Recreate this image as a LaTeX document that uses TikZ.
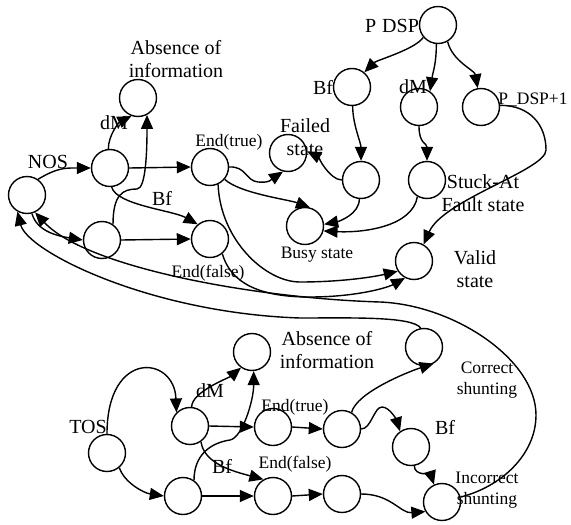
\documentclass[tikz,border=0pt]{standalone}
\usepackage{fontspec}
\setmainfont{Liberation Serif}
\usetikzlibrary{arrows.meta}
\begin{document}
\begin{tikzpicture}[x=1pt,y=-1pt,
  stt/.style={circle,draw,line width=1.4pt,minimum size=37pt,inner sep=0pt},
  lbl/.style={inner sep=0pt,align=center,font={\fontsize{20}{23}\selectfont}},
  sml/.style={inner sep=0pt,align=center,font={\fontsize{17.5}{20.5}\selectfont}},
  ar/.style={line width=1.4pt,-{Triangle[length=14pt,width=12pt]}}]
\useasboundingbox (0,0) rectangle (571,525);
% states
\node[stt] (N0) at (27,195) {};
\node[stt] (D1) at (110,168) {};
\node[stt] (D2) at (102,240) {};
\node[stt] (A1) at (138,98) {};
\node[stt] (E1) at (210,167) {};
\node[stt] (F1) at (210,239) {};
\node[stt] (FS) at (288,153) {};
\node[stt] (BS) at (305,226) {};
\node[stt] (VS) at (414,261) {};
\node[stt] (P0) at (438,25) {};
\node[stt] (B3) at (352,87) {};
\node[stt] (M3) at (419,107) {};
\node[stt] (P1) at (481,107) {};
\node[stt] (B4) at (361,180) {};
\node[stt] (S3) at (427,180) {};
\node[stt] (T0) at (107,453) {};
\node[stt] (D3) at (190,426) {};
\node[stt] (D4) at (183,496) {};
\node[stt] (A2) at (252,352) {};
\node[stt] (E3) at (273,427) {};
\node[stt] (F3) at (273,496) {};
\node[stt] (E3b) at (342,429) {};
\node[stt] (F3b) at (342,494) {};
\node[stt] (C2) at (424,347) {};
\node[stt] (B5) at (411,447) {};
\node[stt] (IS) at (442,502) {};
% labels
\node[lbl] (tAbs1) at (176,59) {Absence of\\information};
\node[lbl] (tNOS) at (48,162) {NOS};
\node[lbl] (tdM1) at (114,123) {dM};
\node[sml] (tEt1) at (229,142) {End(true)};
\node[lbl] (tBf1) at (162,198) {Bf};
\node[sml] (tEf1) at (208,273) {End(false)};
\node[lbl] (tFail) at (305,137) {Failed\\state};
\node[sml] (tBusy) at (317,255) {Busy state};
\node[lbl] (tValid) at (475,269) {Valid\\state};
\node[lbl] (tPDSP) at (392,26) {P\hspace{6pt}DSP};
\node[lbl] (tBf2) at (323,87) {Bf};
\node[lbl] (tdM2) at (413,87) {dM};
\node[sml] (tPD1) at (533,100) {P\_DSP+1};
\node[lbl] (tStuck) at (483,193) {Stuck-At\\Fault state};
\node[lbl] (tTOS) at (88,427) {TOS};
\node[lbl] (tdM3) at (210,391) {dM};
\node[sml] (tEt2) at (295,407) {End(true)};
\node[lbl] (tBf3) at (222,466) {Bf};
\node[sml] (tEf2) at (295,464) {End(false)};
\node[lbl] (tAbs2) at (327,350) {Absence of\\information};
\node[sml] (tCor) at (487,380) {Correct\\shunting};
\node[lbl] (tBf4) at (445,427) {Bf};
\node[sml] (tInc) at (487,490) {Incorrect\\shunting};
% top section
\draw[ar] (N0.55) .. controls +(20,-12) and +(-25,0) .. (D1.west);
\draw[ar] (N0.-75) .. controls +(5,18) and +(-25,-4) .. (D2.west);
\draw[ar] (D1.95) .. controls +(0,-14) and +(-12,6) .. (A1.-110);
\draw[ar] (D2.55) .. controls +(0,-30) and +(-14,0) .. (137,189) .. controls +(9,0) and +(0,35) .. (A1.-62);
\draw[ar] (D1.east) -- (E1.west);
\draw[ar] (D1.-85) .. controls +(5,18) and +(-25,-14) .. (F1.130);
\draw[ar] (D2.east) -- (F1.west);
\draw[ar] (E1.east) .. controls +(17,-1) and +(-12,-1) .. (258,182) .. controls +(12,1) and +(-12,8) .. (FS.-105);
\draw[ar] (E1.-40) .. controls +(15,14) and +(-22,-8) .. (BS.75);
\draw[ar] (E1.-65) .. controls +(2,55) and +(-35,0) .. (300,282) .. controls +(40,0) and +(-25,6) .. (VS.-148);
\draw[ar] (F1.-50) .. controls +(10,35) and +(-40,0) .. (310,297) .. controls +(45,0) and +(-18,10) .. (VS.-118);
\draw[ar] (P0.-140) .. controls +(-8,12) and +(12,-12) .. (B3.50);
\draw[ar] (P0.-95) .. controls +(0,20) and +(3,-20) .. (M3.55);
\draw[ar] (P0.-60) .. controls +(5,20) and +(-3,-18) .. (P1.100);
\draw[ar] (B3.-88) .. controls +(0,18) and +(0,-18) .. (B4.north);
\draw[ar] (M3.-90) .. controls +(0,18) and +(0,-18) .. (S3.north);
\draw[ar] (P1.5) .. controls +(30,0) and +(0,-25) .. (546,150) .. controls +(0,20) and +(20,-45) .. (VS.60);
\draw[ar] (B4.west) .. controls +(-12,0) and +(10,5) .. (FS.5);
\draw[ar] (B4.-95) .. controls +(0,15) and +(15,-3) .. (BS.5);
\draw[ar] (S3.-120) .. controls +(-5,30) and +(40,2) .. (BS.-15);
% bottom section
\draw[ar] (T0.north) .. controls +(0,-85) and +(-2,-57) .. (D3.135);
\draw[ar] (T0.-50) .. controls +(5,15) and +(-20,-3) .. (D4.west);
\draw[ar] (D3.85) .. controls +(0,-15) and +(-12,10) .. (A2.-125);
\draw[ar] (D4.55) .. controls +(0,-25) and +(-20,3) .. (230,440) .. controls +(12,-2) and +(0,30) .. (A2.-85);
\draw[ar] (D3.east) -- (E3.west);
\draw[ar] (D3.-55) .. controls +(3,22) and +(-30,-8) .. (F3.120);
\draw[ar] (D4.east) -- (F3.west);
\draw[ar] (E3.east) -- (E3b.west);
\draw[ar] (F3.east) -- (F3b.west);
\draw[ar] (E3b.60) .. controls +(5,-20) and +(-25,8) .. (C2.-60);
\draw[ar] (E3b.east) .. controls +(10,0) and +(-8,0) .. (382,407) .. controls +(8,0) and +(-3,-10) .. (B5.125);
\draw[ar] (B5.-80) .. controls +(0,10) and +(-3,-10) .. (IS.115);
\draw[ar] (F3b.east) .. controls +(30,0) and +(-25,2) .. (IS.-150);
% returns to NOS
\draw[ar] (C2.100) .. controls +(-8,-12) and +(50,0) .. (300,318) .. controls +(-150,-5) and +(10,40) .. (N0.-120);
\draw[ar] (IS.15) .. controls +(40,-10) and +(0,40) .. (536,415) .. controls +(0,-55) and +(75,3) .. (380,302) .. controls +(-130,-4) and +(50,54) .. (N0.-65);
\end{tikzpicture}
\end{document}
